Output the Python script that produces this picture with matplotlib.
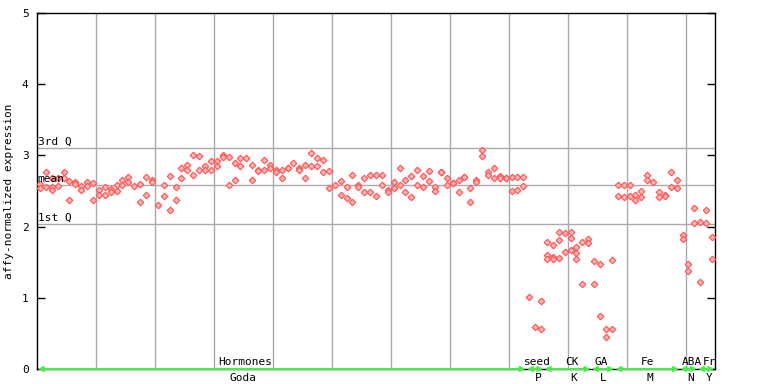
import numpy as np
import matplotlib
matplotlib.use("Agg")
import matplotlib.pyplot as plt

# ==========================================
# data
# ==========================================
# expression values per sample column, columns run left to right
hormones_vals = [
    [2.60, 2.54], [2.77, 2.55], [2.68, 2.55, 2.52], [2.68, 2.57], [2.77, 2.68],
    [2.64, 2.37], [2.62, 2.60], [2.57, 2.52], [2.62, 2.57], [2.61, 2.38],
    [2.51, 2.44], [2.56, 2.45], [2.53, 2.49], [2.58, 2.50], [2.65, 2.58],
    [2.69, 2.63], [2.57], [2.60, 2.35], [2.69, 2.44], [2.65, 2.63],
    [2.30], [2.58, 2.43], [2.71, 2.23], [2.56, 2.37], [2.82, 2.68],
    [2.87, 2.79], [3.00, 2.73], [2.99, 2.80], [2.85, 2.79], [2.92, 2.79],
    [2.92, 2.85], [3.00, 2.98], [2.98, 2.59], [2.89, 2.65], [2.97, 2.85],
    [2.97], [2.87, 2.66], [2.80, 2.78], [2.93, 2.80], [2.87, 2.82],
    [2.80, 2.76], [2.80, 2.68], [2.83, 2.83], [2.89], [2.82, 2.79],
    [2.86, 2.68], [3.03, 2.85], [2.97, 2.85], [2.93, 2.76], [2.78, 2.54],
    [2.59], [2.64, 2.44], [2.56, 2.40], [2.73, 2.35], [2.59, 2.56],
    [2.68, 2.48], [2.72, 2.48], [2.72, 2.43], [2.73, 2.58], [2.51, 2.48],
    [2.62, 2.54], [2.82, 2.58], [2.66, 2.48], [2.71, 2.41], [2.80, 2.58],
    [2.71, 2.55], [2.78, 2.64], [2.55, 2.50], [2.76, 2.76], [2.68, 2.58],
    [2.61, 2.61], [2.65, 2.48], [2.69, 2.69], [2.54, 2.35], [2.65, 2.62],
    [3.07, 2.99], [2.76, 2.73], [2.82, 2.68], [2.71, 2.68], [2.68, 2.68],
    [2.69, 2.50], [2.69, 2.51], [2.69, 2.57],
]
seed_vals = [[1.01], [0.59], [0.95, 0.56]]
ck_vals = [[1.79, 1.60, 1.54], [1.74, 1.57, 1.54], [1.92, 1.81, 1.56], [1.91, 1.64],
           [1.92, 1.84, 1.67], [1.72, 1.63, 1.55], [1.78, 1.19], [1.82, 1.77]]
ga_vals = [[1.51, 1.19], [1.48, 0.75], [0.56, 0.45], [1.53, 0.56]]
fe_vals = [[2.58, 2.43], [2.58, 2.42], [2.58, 2.43], [2.45, 2.38], [2.50, 2.42],
           [2.73, 2.65], [2.63], [2.48, 2.42], [2.45, 2.43], [2.76, 2.55], [2.66, 2.54]]
aba_vals = [[1.88, 1.82], [1.48, 1.37], [2.26, 2.05]]
fr_vals = [[2.06, 1.22], [2.23, 2.05], [1.86, 1.55]]

groups = [hormones_vals, seed_vals, ck_vals, ga_vals, fe_vals, aba_vals, fr_vals]
group_names = ["Hormones", "seed", "CK", "GA", "Fe", "ABA", "Fr"]
group_sub = ["Goda", "P", "K", "L", "M", "N", "Y"]

q1, q_mean, q3 = 2.04, 2.58, 3.10

# label anchor columns (where the reference puts the text)
name_pos = [34.8, 84.3, 90.2, 95.2, 103.1, 110.6, 113.6]
sub_pos = [34.4, 84.5, 90.6, 95.5, 103.5, 110.4, 113.5]

# ==========================================
# flatten columns -> x, y
# ==========================================
xs, ys, spans = [], [], []
k = 0
for g in groups:
    start = k
    for col in g:
        for v in col:
            xs.append(k)
            ys.append(v)
        k += 1
    spans.append((start, k - 1))
n_cols = k

plt.rcParams['font.family'] = ['DejaVu Sans Mono']
fig = plt.figure(figsize=(7.68, 3.84), dpi=100)
ax = fig.add_axes([37 / 768, 15 / 384, 678 / 768, 356 / 384])

ax.set_xlim(-0.5, n_cols - 0.5)
ax.set_ylim(0, 5)

# vertical grid every 10 columns
for gx in np.arange(9.5, n_cols - 1, 10):
    ax.axvline(gx, color='#aaaaaa', lw=1, zorder=1)

# quartile / mean lines
for val, lab in [(q3, "3rd Q"), (q_mean, "mean"), (q1, "1st Q")]:
    ax.axhline(val, color='#aaaaaa', lw=1, zorder=1)
    ax.text(-0.4, val + 0.02, lab, fontsize=8, va='bottom', ha='left', zorder=4)

ax.plot(xs, ys, linestyle='none', marker='D', markersize=3.3,
        markerfacecolor='#ffb8b8', markeredgecolor='#ff5a5a', markeredgewidth=0.9,
        zorder=3, clip_on=False)

# group arrows and labels
for (s, e), name, sub, npos, spos in zip(spans, group_names, group_sub, name_pos, sub_pos):
    ax.annotate("", xy=(e + 0.4, 0), xytext=(s - 0.4, 0),
                arrowprops=dict(arrowstyle='<->', color='#44ee44', lw=1.5,
                                mutation_scale=7, shrinkA=0, shrinkB=0),
                zorder=5, annotation_clip=False)
    ax.text(npos, 0.03, name, fontsize=8, ha='center', va='bottom', zorder=4, clip_on=True)
    ax.text(spos, -0.05, sub, fontsize=8, ha='center', va='top', zorder=4)

ax.set_xticks([])
ax.set_yticks([0, 1, 2, 3, 4, 5])
ax.tick_params(axis='y', direction='in', length=6, width=1, right=True, labelsize=8, pad=6)
for sp in ax.spines.values():
    sp.set_color('black')
    sp.set_linewidth(1)
ax.set_ylabel("affy-normalized expression", fontsize=8, labelpad=6)

fig.savefig("out.png", dpi=100)
